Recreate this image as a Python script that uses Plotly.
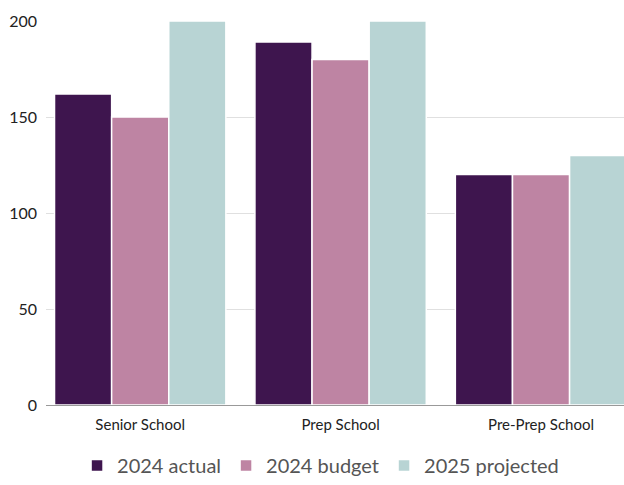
import plotly.graph_objects as go

categories = ["Senior School", "Prep School", "Pre-Prep School"]
actual_2024 = [162, 189, 120]
budget_2024 = [150, 180, 120]
projected_2025 = [200, 200, 130]
series_names = ["2024 actual", "2024 budget", "2025 projected"]
colors = ["#3e154e", "#be84a3", "#b8d4d4"]

fig = go.Figure()
for name, vals, col in zip(series_names, [actual_2024, budget_2024, projected_2025], colors):
    fig.add_trace(go.Bar(x=categories, y=vals, name=name, marker=dict(color=col, line=dict(color="white", width=1.5))))

fig.update_layout(
    width=624, height=485,
    margin=dict(l=46, r=0, t=21, b=80, autoexpand=False),
    barmode="group", bargap=0.145, bargroupgap=0.0,
    plot_bgcolor="white", paper_bgcolor="white",
    font=dict(family="Lato, sans-serif", color="#333333", size=14),
    legend=dict(orientation="h", x=0.475, xanchor="center", yref="container", y=-0.022, yanchor="bottom",
                font=dict(size=20, color="#555555")),
    xaxis=dict(range=[-0.47, 2.414], showline=True, linecolor="#999999", linewidth=1,
               ticks="", ticklabelstandoff=6, tickfont=dict(size=15, color="#222222")),
    yaxis=dict(range=[0, 200], tickvals=[0, 50, 100, 150, 200], showgrid=True,
               gridcolor="#e0e0e0", zeroline=False, ticks="", ticklabelstandoff=8,
               tickfont=dict(size=16, color="#222222")),
)
fig.write_html("out.html")
